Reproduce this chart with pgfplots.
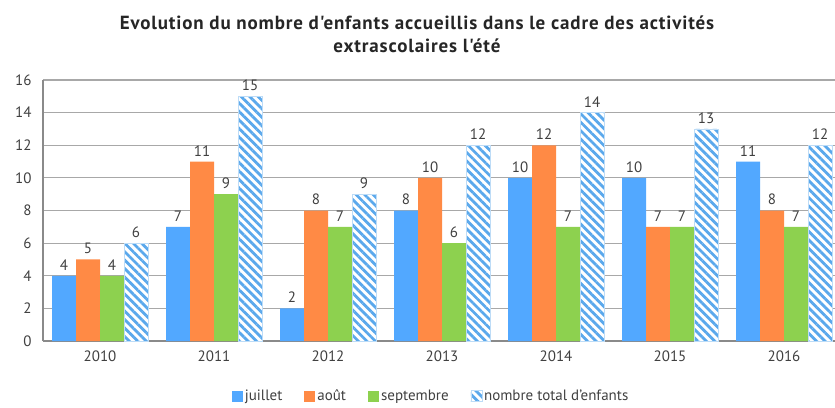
\documentclass[border=0pt]{standalone}
\usepackage{pgfplots}
\pgfplotsset{compat=1.18}
\usepackage{fontspec}
\setmainfont{PT Sans}
\newfontfamily\titlefont[LetterSpace=4.5]{PT Sans}
\usetikzlibrary{patterns.meta}
\definecolor{cblue}{HTML}{52A8FF}
\definecolor{corange}{HTML}{FF8A45}
\definecolor{cgreen}{HTML}{8DD14F}
\definecolor{chatch}{HTML}{5AA8EC}
\definecolor{ctext}{HTML}{404040}
\definecolor{cgrid}{HTML}{A8A8A8}
\definecolor{caxis}{HTML}{8A8A8A}
\begin{document}
\begin{tikzpicture}
\begin{axis}[
  scale only axis,
  width=792pt, height=261pt,
  at={(0,0)}, anchor=south west,
  ybar=0pt, bar width=24pt,
  xmin=-0.5, xmax=6.447,
  ymin=0, ymax=16,
  xtick={0,1,2,3,4,5,6},
  xticklabels={2010,2011,2012,2013,2014,2015,2016},
  ytick={0,2,...,16},
  major tick length=0pt,
  axis x line*=bottom, axis y line*=left,
  axis line style={caxis, line width=1.6pt},
  ymajorgrids, grid style={cgrid, line width=1.2pt},
  /pgf/number format/assume math mode=true,
  tick label style={font=\fontsize{15}{18}\selectfont, text=ctext},
  xticklabel style={yshift=-6pt},
  yticklabel style={xshift=-8pt},
  nodes near coords,
  every node near coord/.append style={font=\fontsize{15}{18}\selectfont, text=ctext, yshift=2pt},
  legend columns=4,
  legend style={draw=none, fill=none, at={(0.49,0)}, anchor=center, yshift=-55pt,
    font=\fontsize{15}{18}\selectfont, text=ctext,
    /tikz/every even column/.append style={column sep=20pt}},
  legend image code/.code={\draw[#1, draw=none] (0pt,-5.5pt) rectangle (11pt,5.5pt);},
  clip=true,
]
\addplot[fill=cblue, draw=none] coordinates {(0,4) (1,7) (2,2) (3,8) (4,10) (5,10) (6,11)};
\addplot[fill=corange, draw=none] coordinates {(0,5) (1,11) (2,8) (3,10) (4,12) (5,7) (6,8)};
\addplot[fill=cgreen, draw=none] coordinates {(0,4) (1,9) (2,7) (3,6) (4,7) (5,7) (6,7)};
\addplot[fill=white, draw=chatch!40, postaction={pattern={Lines[angle=-45, distance=6pt, line width=2.8pt]}, pattern color=chatch}] coordinates {(0,6) (1,15) (2,9) (3,12) (4,14) (5,13) (6,12)};
\legend{juillet, août, septembre, nombre total d'enfants}
\end{axis}
\node[align=center, font=\titlefont\bfseries\fontsize{19}{23}\selectfont, text=black!85] at (374pt, 307pt) {Evolution du nombre d'enfants accueillis dans le cadre des activités\\extrascolaires l'été};
\pgfresetboundingbox
\path[use as bounding box] (-43pt,-66pt) rectangle (792pt,341pt);
\end{tikzpicture}
\end{document}
